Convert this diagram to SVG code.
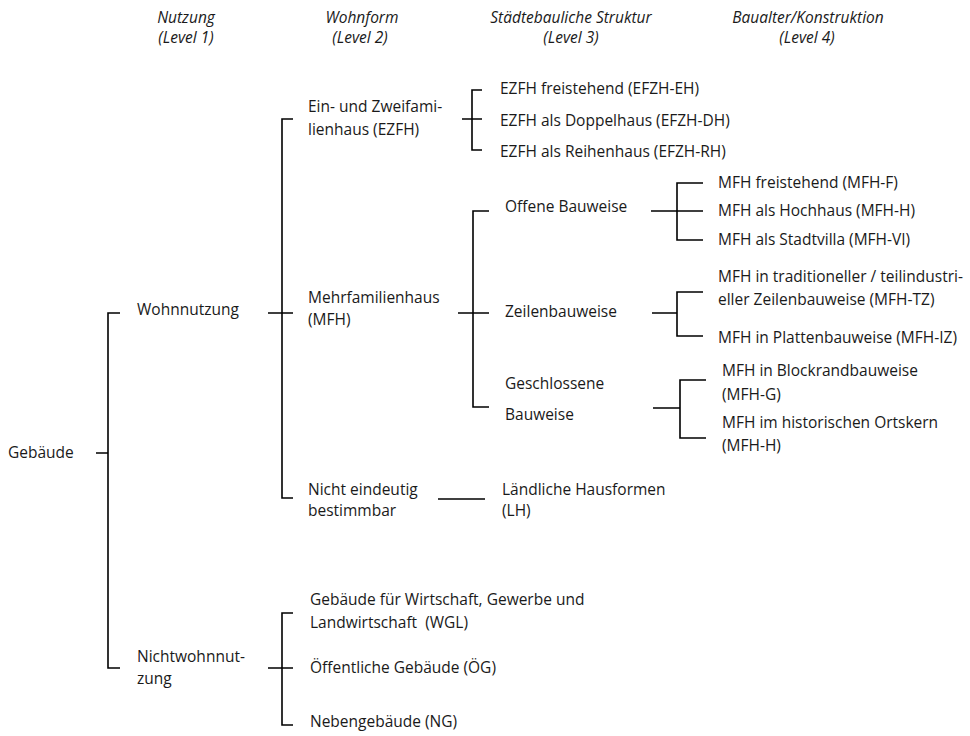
<svg xmlns="http://www.w3.org/2000/svg" width="970" height="736" viewBox="0 0 970 736">
<style>
text{font-family:"Open Sans","Liberation Sans",sans-serif;font-size:15.5px;fill:#1a1a1a}
.h{font-style:italic;text-anchor:middle}
.c{fill:none;stroke:#000;stroke-width:1.6}
</style>
<rect width="970" height="736" fill="#fff"/>
<g id="headers">
<text class="h" x="186" y="23">Nutzung</text><text class="h" x="186" y="43">(Level 1)</text>
<text class="h" x="362" y="23">Wohnform</text><text class="h" x="360" y="43">(Level 2)</text>
<text class="h" x="571" y="23">Städtebauliche Struktur</text><text class="h" x="571" y="43">(Level 3)</text>
<text class="h" x="808" y="23">Baualter/Konstruktion</text><text class="h" x="807" y="43">(Level 4)</text>
</g>
<g id="connectors" class="c">
<path d="M96 453H108M120 313H108V668H120"/>
<path d="M268 313H293M293 119H282V498H293"/>
<path d="M268 668H293M293 613H282V725H293"/>
<path d="M462 119H482M482 90H472V150H482"/>
<path d="M458 313H489M489 211H473V407H489"/>
<path d="M438 499H485"/>
<path d="M651 211H703M703 183H677V240H703"/>
<path d="M652 313H677M703 292H677V336H703"/>
<path d="M653 408H680M706 380H680V438H706"/>
</g>
<g id="n-gebaeude"><text x="8" y="458">Gebäude</text></g>
<g id="n-wohnnutzung"><text x="137" y="315">Wohnnutzung</text></g>
<g id="n-nichtwohnnutzung"><text x="137" y="662">Nichtwohnnut-</text><text x="137" y="684">zung</text></g>
<g id="n-ezfh"><text x="308" y="112">Ein- und Zweifami-</text><text x="308" y="135">lienhaus (EZFH)</text></g>
<g id="n-mfh"><text x="308" y="303">Mehrfamilienhaus</text><text x="308" y="325">(MFH)</text></g>
<g id="n-nicht"><text x="308" y="495">Nicht eindeutig</text><text x="308" y="516">bestimmbar</text></g>
<g id="n-efzh-eh"><text x="500" y="94">EZFH freistehend (EFZH-EH)</text></g>
<g id="n-efzh-dh"><text x="500" y="126">EZFH als Doppelhaus (EFZH-DH)</text></g>
<g id="n-efzh-rh"><text x="500" y="157">EZFH als Reihenhaus (EFZH-RH)</text></g>
<g id="n-offen"><text x="505" y="212">Offene Bauweise</text></g>
<g id="n-zeilen"><text x="505" y="317">Zeilenbauweise</text></g>
<g id="n-geschlossen"><text x="505" y="389">Geschlossene</text><text x="505" y="420">Bauweise</text></g>
<g id="n-mfh-f"><text x="718" y="188">MFH freistehend (MFH-F)</text></g>
<g id="n-mfh-h"><text x="718" y="216">MFH als Hochhaus (MFH-H)</text></g>
<g id="n-mfh-vi"><text x="718" y="245">MFH als Stadtvilla (MFH-VI)</text></g>
<g id="n-mfh-tz"><text x="718" y="282">MFH in traditioneller / teilindustri-</text><text x="718" y="305">eller Zeilenbauweise (MFH-TZ)</text></g>
<g id="n-mfh-iz"><text x="718" y="343">MFH in Plattenbauweise (MFH-IZ)</text></g>
<g id="n-mfh-g"><text x="722" y="376">MFH in Blockrandbauweise</text><text x="722" y="400">(MFH-G)</text></g>
<g id="n-mfh-hist"><text x="722" y="428">MFH im historischen Ortskern</text><text x="722" y="451">(MFH-H)</text></g>
<g id="n-lh"><text x="502" y="495">Ländliche Hausformen</text><text x="502" y="516">(LH)</text></g>
<g id="n-wgl"><text x="310" y="605">Gebäude für Wirtschaft, Gewerbe und</text><text x="310" y="628" xml:space="preserve">Landwirtschaft  (WGL)</text></g>
<g id="n-oeg"><text x="310" y="673">Öffentliche Gebäude (ÖG)</text></g>
<g id="n-ng"><text x="310" y="727">Nebengebäude (NG)</text></g>
</svg>
